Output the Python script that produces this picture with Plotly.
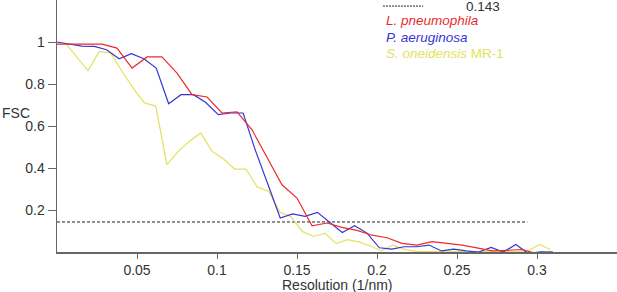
import plotly.graph_objects as go

# ---- data ----
red_x = [0.0000, 0.0094, 0.0188, 0.0281, 0.0375, 0.0469, 0.0563, 0.0656, 0.0750, 0.0844,
         0.0938, 0.1031, 0.1125, 0.1219, 0.1313, 0.1406, 0.1500, 0.1594, 0.1688, 0.1781,
         0.1875, 0.1969, 0.2063, 0.2156, 0.2250, 0.2344, 0.2438, 0.2531, 0.2625, 0.2719,
         0.2813, 0.2906, 0.3000, 0.3094]
red_y = [0.990, 0.990, 0.990, 0.990, 0.971, 0.876, 0.929, 0.929, 0.852, 0.749,
         0.738, 0.662, 0.667, 0.582, 0.450, 0.320, 0.257, 0.125, 0.138, 0.117,
         0.103, 0.080, 0.068, 0.041, 0.033, 0.049, 0.041, 0.033, 0.020, 0.005,
         0.008, 0.012, -0.008, 0.000]

blue_x = [0.0000, 0.0078, 0.0155, 0.0233, 0.0310, 0.0388, 0.0465, 0.0543, 0.0620, 0.0698,
          0.0775, 0.0853, 0.0930, 0.1008, 0.1085, 0.1163, 0.1240, 0.1318, 0.1395, 0.1473,
          0.1550, 0.1628, 0.1705, 0.1783, 0.1860, 0.1938, 0.2015, 0.2093, 0.2170, 0.2248,
          0.2325, 0.2403, 0.2480, 0.2558, 0.2635, 0.2713, 0.2790, 0.2868, 0.2945, 0.3023,
          0.3100]
blue_y = [1.000, 0.990, 0.980, 0.979, 0.963, 0.920, 0.944, 0.920, 0.876, 0.706,
          0.749, 0.749, 0.712, 0.654, 0.662, 0.662, 0.484, 0.323, 0.162, 0.181,
          0.170, 0.189, 0.140, 0.093, 0.125, 0.090, 0.020, 0.014, 0.025, 0.025,
          0.033, 0.005, 0.014, 0.005, 0.000, 0.022, 0.000, 0.036, -0.007, 0.001,
          0.000]

yellow_x = [0.0053, 0.0123, 0.0194, 0.0264, 0.0335, 0.0405, 0.0476, 0.0546, 0.0617, 0.0687,
            0.0758, 0.0828, 0.0899, 0.0969, 0.1040, 0.1110, 0.1181, 0.1251, 0.1322, 0.1392,
            0.1463, 0.1533, 0.1604, 0.1674, 0.1745, 0.1815, 0.1886, 0.1956, 0.2027, 0.2097,
            0.2168, 0.2238, 0.2309, 0.2379, 0.2450, 0.2520, 0.2591, 0.2661, 0.2732, 0.2802,
            0.2873, 0.2943, 0.3014, 0.3084]
yellow_y = [0.995, 0.930, 0.863, 0.955, 0.948, 0.862, 0.780, 0.710, 0.695, 0.416,
            0.479, 0.527, 0.567, 0.479, 0.444, 0.395, 0.395, 0.310, 0.289, 0.190,
            0.168, 0.098, 0.074, 0.090, 0.040, 0.059, 0.048, 0.030, 0.005, 0.033,
            0.014, 0.003, 0.003, 0.002, 0.004, 0.002, 0.000, 0.003, 0.002, 0.004,
            0.002, 0.005, 0.036, 0.012]

threshold = 0.143
threshold_x = [0.0, 0.294]

x_ticks = [0.05, 0.1, 0.15, 0.2, 0.25, 0.3]
x_tick_text = ["0.05", "0.1", "0.15", "0.2", "0.25", "0.3"]
y_ticks = [0.2, 0.4, 0.6, 0.8, 1.0]
y_tick_text = ["0.2", "0.4", "0.6", "0.8", "1"]

RED = "#ec2b2f"
BLUE = "#3535d6"
YELLOW = "#e2e25e"
FONT = "Liberation Sans"
TXT = "#333333"

fig = go.Figure()
fig.add_trace(go.Scatter(x=threshold_x, y=[threshold, threshold], mode="lines",
                         line=dict(color="#222222", width=1, dash="3px,2px")))
fig.add_trace(go.Scatter(x=yellow_x, y=yellow_y, mode="lines",
                         line=dict(color=YELLOW, width=1.2)))
fig.add_trace(go.Scatter(x=blue_x, y=blue_y, mode="lines",
                         line=dict(color=BLUE, width=1.2)))
fig.add_trace(go.Scatter(x=red_x, y=red_y, mode="lines",
                         line=dict(color=RED, width=1.2)))

fig.update_layout(
    width=617, height=292,
    margin=dict(l=57, r=0, t=0, b=40),
    paper_bgcolor="white", plot_bgcolor="white",
    showlegend=False,
    font=dict(family=FONT, size=14, color=TXT),
    xaxis=dict(range=[0, 0.35], showgrid=False, zeroline=False,
               showline=True, linecolor="#666666", linewidth=1.5,
               ticks="outside", ticklen=5, tickcolor="#666666",
               tickvals=x_ticks, ticktext=x_tick_text,
               tickfont=dict(family=FONT, size=14, color=TXT)),
    yaxis=dict(range=[0, 1.2], showgrid=False, zeroline=False,
               showline=True, linecolor="#666666", linewidth=1.5,
               ticks="outside", ticklen=8, tickcolor="#666666",
               tickvals=y_ticks, ticktext=y_tick_text,
               tickfont=dict(family=FONT, size=14, color=TXT)),
)

# legend (custom) in paper coordinates
fig.add_shape(type="line", xref="paper", yref="paper",
              x0=0.582, x1=0.654, y0=0.976, y1=0.976,
              line=dict(color="#222222", width=1, dash="2px,1px"))
ann = [
    dict(text="0.143", x=0.727, y=0.976, color=TXT),
    dict(text="<i>L. pneumophila</i>", x=0.584, y=0.917, color=RED),
    dict(text="<i>P. aeruginosa</i>", x=0.584, y=0.853, color=BLUE),
    dict(text="<i>S. oneidensis</i> MR-1", x=0.584, y=0.786, color=YELLOW),
]
for a in ann:
    fig.add_annotation(text=a["text"], xref="paper", yref="paper", x=a["x"], y=a["y"],
                       xanchor="left", yanchor="middle", showarrow=False,
                       font=dict(family=FONT, size=13.5, color=a["color"]))

fig.add_annotation(text="FSC", xref="paper", yref="paper", x=-0.102, y=0.553,
                   xanchor="left", yanchor="middle", showarrow=False,
                   font=dict(family=FONT, size=14, color=TXT))
fig.add_annotation(text="Resolution (1/nm)", xref="paper", yref="paper", x=0.5, y=-0.131,
                   xanchor="center", yanchor="middle", showarrow=False,
                   font=dict(family=FONT, size=14, color=TXT))

fig.write_html("out.html",
               config={"displayModeBar": False, "staticPlot": True},
               post_script="document.body.style.margin='0';document.body.style.overflow='hidden';")
